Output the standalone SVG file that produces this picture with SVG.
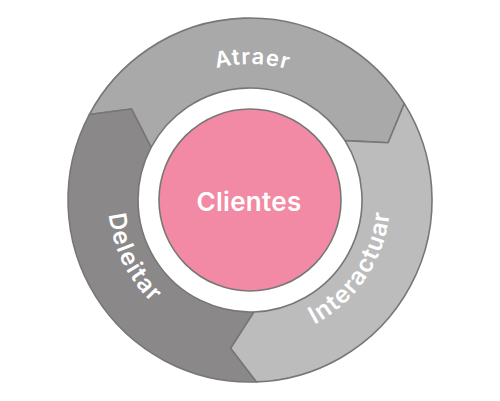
<svg xmlns="http://www.w3.org/2000/svg" width="500" height="401" viewBox="0 0 500 401">
  <style>
    .seg { stroke: #777777; stroke-width: 1.6; stroke-linejoin: round; }
    .lbl { font-family: "Inter", "Open Sans", "Liberation Sans", sans-serif; font-weight: 600; fill: #ffffff; }
  </style>
  <defs>
    <path id="pAtraer" d="M 114,200 A 136 136 0 1 1 386,200 A 136 136 0 1 1 114,200"/>
    <path id="pDeleitar" d="M 392,200 A 142 142 0 1 0 108,200 A 142 142 0 1 0 392,200"/>
    <path id="pInteractuar" d="M 250,340 A 140 140 0 1 0 250,60 A 140 140 0 1 0 250,340"/>
  </defs>
  <rect width="500" height="401" fill="#ffffff"/>
  <g id="atraer">
    <path class="seg" fill="#a9a9a9" d="M 89.31,114.55 A 182 182 0 0 1 404.34,103.56 L 388.12,142.79 L 344.98,140.65 A 112 112 0 0 0 151.12,147.42 L 131.39,108.98 Z"/>
    <text class="lbl" font-size="22" letter-spacing="1.2"><textPath href="#pAtraer" startOffset="25.3%" text-anchor="middle">Atraer</textPath></text>
  </g>
  <g id="interactuar">
    <path class="seg" fill="#bcbcbc" d="M 404.34,103.56 A 182 182 0 0 1 256.35,381.89 L 230.49,348.21 L 253.91,311.93 A 112 112 0 0 0 344.98,140.65 L 388.12,142.79 Z"/>
    <text class="lbl" font-size="24" letter-spacing="1.2"><textPath href="#pInteractuar" startOffset="15.6%" text-anchor="middle">Interactuar</textPath></text>
  </g>
  <g id="deleitar">
    <path class="seg" fill="#8a8889" d="M 256.35,381.89 A 182 182 0 0 1 89.31,114.55 L 131.39,108.98 L 151.12,147.42 A 112 112 0 0 0 253.91,311.93 L 230.49,348.21 Z"/>
    <text class="lbl" font-size="24" letter-spacing="1.4"><textPath href="#pDeleitar" startOffset="57.3%" text-anchor="middle">Deleitar</textPath></text>
  </g>
  <g id="clientes">
    <circle cx="250" cy="200" r="91" fill="#f28aa5" stroke="#777777" stroke-width="1.6"/>
    <text class="lbl" x="249" y="211" font-size="26" letter-spacing="0.3" text-anchor="middle">Clientes</text>
  </g>
</svg>
